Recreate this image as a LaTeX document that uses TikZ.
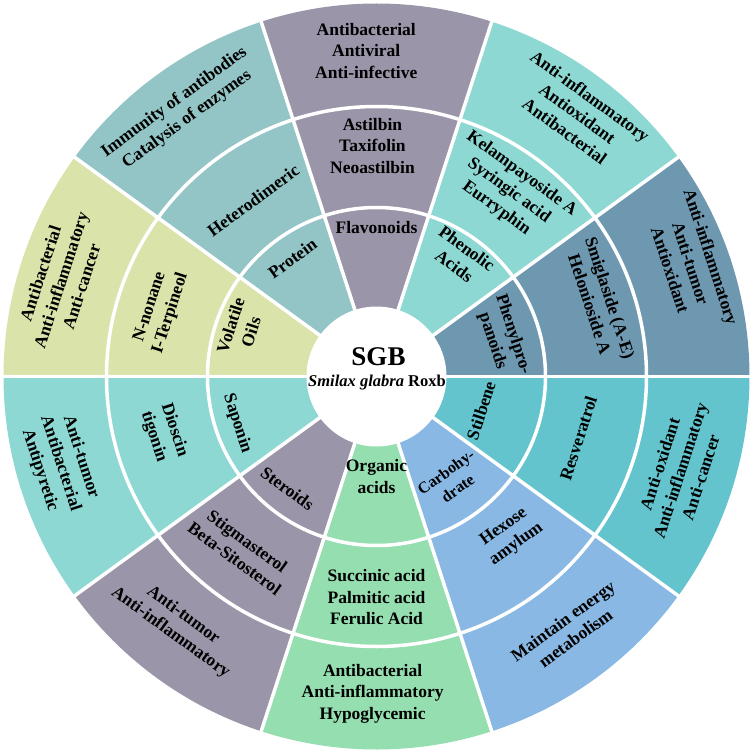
\documentclass[tikz,border=0pt]{standalone}
\usepackage{fontspec}
\setmainfont{Liberation Serif}
\definecolor{cPhenyl}{RGB}{110,151,176}
\definecolor{cPhenolic}{RGB}{141,216,211}
\definecolor{cFlav}{RGB}{154,149,168}
\definecolor{cProtein}{RGB}{147,197,198}
\definecolor{cVolatile}{RGB}{217,227,170}
\definecolor{cOrganic}{RGB}{149,222,176}
\definecolor{cCarbo}{RGB}{136,184,227}
\definecolor{cStilbene}{RGB}{99,196,206}
\tikzset{
  lbl/.style={align=center, inner sep=0pt, font=\bfseries\fontsize{17.5}{21.5}\selectfont},
  lblsmall/.style={align=center, inner sep=0pt, font=\bfseries\fontsize{16}{20}\selectfont},
  sep/.style={draw=white, line width=3.5pt}
}
\newcommand{\wedgefill}[3]{\fill[#3] (0,0) -- (#1:373) arc[start angle=#1, end angle=#2, radius=373] -- cycle;}
\begin{document}
\begin{tikzpicture}[x=1pt,y=1pt]
\useasboundingbox (-376.5,-376.5) rectangle (376.5,376.5);
% sectors
\wedgefill{0}{36}{cPhenyl}
\wedgefill{36}{72}{cPhenolic}
\wedgefill{72}{108}{cFlav}
\wedgefill{108}{144}{cProtein}
\wedgefill{144}{180}{cVolatile}
\wedgefill{180}{216}{cPhenolic}
\wedgefill{216}{252}{cFlav}
\wedgefill{252}{288}{cOrganic}
\wedgefill{288}{324}{cCarbo}
\wedgefill{324}{360}{cStilbene}
% separators
\foreach \a in {0,36,...,324} {\draw[sep] (0,0) -- (\a:375);}
\draw[sep] (0,0) circle[radius=169];
\draw[sep] (0,0) circle[radius=270];
\fill[white] (0,0) circle[radius=70];
% centre
\node[font=\bfseries\fontsize{27}{30}\selectfont, inner sep=0pt] (sgb) at (2,20) {SGB};
\node[font=\bfseries\fontsize{16.5}{19}\selectfont, inner sep=0pt] (smilax) at (0.5,-6) {\textit{Smilax glabra} Roxb};
% Flavonoids
\node[lbl] (flavA) at (90:149) {Flavonoids};
\node[lbl] (flavB) at (91:231) {Astilbin\\Taxifolin\\Neoastilbin};
\node[lbl] (flavC) at (91.8:326) {Antibacterial\\Antiviral\\Anti-infective};
% Phenolic acids
\node[lbl, rotate=-36] (phenA) at (54.8:146) {Phenolic\\Acids};
\node[lbl, rotate=-36] (phenB) at (54.5:228) {Kelampayoside A\\Syringic acid\\Eurryphin};
\node[lbl, rotate=-36] (phenC) at (52.6:331) {Anti-inflammatory\\Antioxidant\\Antibacterial};
% Phenylpropanoids
\node[lbl, rotate=-72] (ppA) at (17:132) {Phenylpro-\\panoids};
\node[lbl, rotate=-72] (ppB) at (18.7:236) {Smiglaside (A-E)\\Helonioside A};
\node[lbl, rotate=-72] (ppC) at (19.8:334) {Anti-inflammatory\\Anti-tumor\\Antioxidant};
% Stilbene
\node[lbl, rotate=72] (stA) at (-18:110) {Stilbene};
\node[lbl, rotate=72] (stB) at (-17:211) {Resveratrol};
\node[lbl, rotate=72] (stC) at (-17.2:318) {Anti-oxidant\\Anti-inflammatory\\Anti-cancer};
% Carbohydrate
\node[lblsmall, rotate=36] (caA) at (-54:128) {Carbohy-\\drate};
\node[lbl, rotate=36] (caB) at (-50:208) {Hexose\\amylum};
\node[lbl, rotate=36] (caC) at (-52.7:318) {Maintain energy\\metabolism};
% Organic acids
\node[lbl] (orA) at (-90:100) {Organic\\acids};
\node[lbl] (orB) at (-90:221) {Succinic acid\\Palmitic acid\\Ferulic Acid};
\node[lbl] (orC) at (-90.7:317) {Antibacterial\\Anti-inflammatory\\Hypoglycemic};
% Steroids
\node[lbl, rotate=-36] (sterA) at (-128.5:143) {Steroids};
\node[lbl, rotate=-36] (sterB) at (-128:220) {Stigmasterol\\Beta-Sitosterol};
\node[lbl, rotate=-36] (sterC) at (-128.9:318) {Anti-tumor\\Anti-inflammatory};
% Saponin
\node[lbl, rotate=-72] (sapA) at (198.7:147) {Saponin};
\node[lbl, rotate=-72] (sapB) at (195:220) {Dioscin\\tigonin};
\node[lbl, rotate=-72] (sapC) at (195.4:328) {Anti-tumor\\Antibacterial\\Antipyretic};
% Volatile oils
\node[lbl, rotate=72] (volA) at (160.6:144) {Volatile\\Oils};
\node[lbl, rotate=72] (volB) at (163:226) {N-nonane\\I-Terpineol};
\node[lbl, rotate=72] (volC) at (163:330) {Antibacterial\\Anti-inflammatory\\Anti-cancer};
% Protein
\node[lbl, rotate=36] (prA) at (125.4:145) {Protein};
\node[lbl, rotate=36] (prB) at (125:215) {Heterodimeric};
\node[lbl, rotate=36] (prC) at (126.4:330) {Immunity of antibodies\\Catalysis of enzymes};
\end{tikzpicture}
\end{document}
